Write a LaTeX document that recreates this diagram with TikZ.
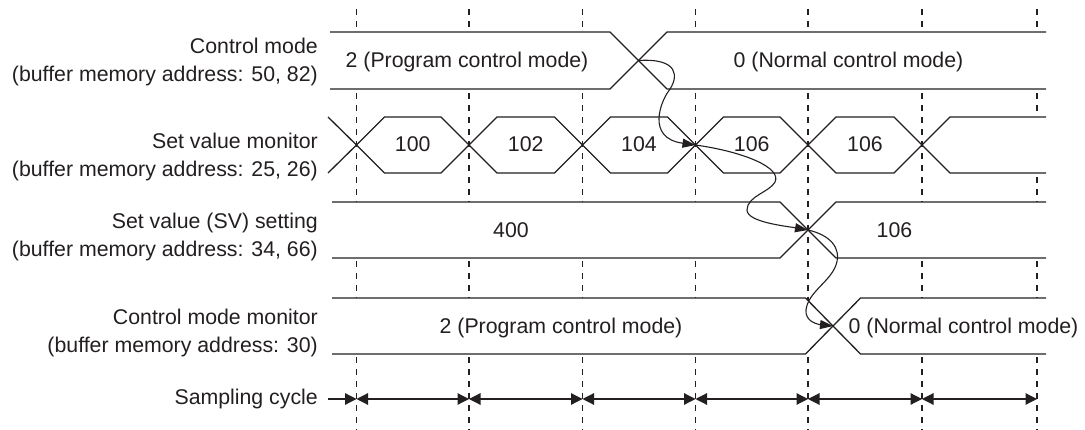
\documentclass[tikz,border=0pt]{standalone}
\usepackage{fontspec}
\setmainfont{Liberation Sans}
\usetikzlibrary{arrows.meta}
\definecolor{ink}{HTML}{231F20}
\begin{document}
\begin{tikzpicture}[x=1pt,y=-1pt,
  sig/.style={draw=ink,line width=1.3pt,line join=miter},
  gridline/.style={draw=ink,line width=1.2pt,dash pattern=on 6pt off 6pt},
  txt/.style={inner sep=0pt,text=ink,font=\fontsize{21.3}{28}\selectfont},
  lab/.style={txt,align=right,anchor=base east},
  val/.style={txt,anchor=base},
  cause/.style={draw=ink,line width=1.1pt,-{Triangle[length=13pt,width=9pt]}},
  cyc/.style={draw=ink,line width=1.2pt,{Triangle[length=11.5pt,width=11.5pt]}-{Triangle[length=11.5pt,width=11.5pt]}}
]
\useasboundingbox (0,0) rectangle (1085,430);

% dashed sampling grid
\foreach \x [count=\i from 0] in {356.5,469,582.5,695.5,808,922,1037} {
  \draw[gridline] (\x,9) -- (\x,430);
  \coordinate (s\i) at (\x,399);
}

% Row 1: control mode
\fill[white] (330,32) -- (610,32) -- (638.5,60.5) -- (610,89) -- (330,89) -- cycle;
\fill[white] (638.5,60.5) -- (667,32) -- (1046,32) -- (1046,89) -- (667,89) -- cycle;
\draw[sig] (330,32) -- (610,32) -- (667,89) -- (1046,89);
\draw[sig] (330,89) -- (610,89) -- (667,32) -- (1046,32);

% Row 2: set value monitor
\draw[sig] (328,117) -- (356.5,145) -- (328,173);
\foreach \a/\b/\v [count=\i] in {356.5/469/100, 469/582.5/102, 582.5/695.5/104, 695.5/808/106, 808/922/106} {
  \filldraw[sig,fill=white] (\a,145) -- (\a+28,117) -- (\b-28,117) -- (\b,145) -- (\b-28,173) -- (\a+28,173) -- cycle;
  \node[val] (m\i) at ({(\a+\b)/2},152) {\v};
}
\fill[white] (922,145) -- (950,117) -- (1046,117) -- (1046,173) -- (950,173) -- cycle;
\draw[sig] (1046,117) -- (950,117) -- (922,145) -- (950,173) -- (1046,173);

% Row 3: set value setting
\fill[white] (332,202) -- (780,202) -- (808,230) -- (780,258) -- (332,258) -- cycle;
\fill[white] (808,230) -- (836,202) -- (1046,202) -- (1046,258) -- (836,258) -- cycle;
\draw[sig] (332,202) -- (780,202) -- (836,258) -- (1046,258);
\draw[sig] (332,258) -- (780,258) -- (836,202) -- (1046,202);

% Row 4: control mode monitor
\fill[white] (332,298) -- (805.5,298) -- (833,326) -- (805.5,354) -- (332,354) -- cycle;
\fill[white] (833,326) -- (860.5,298) -- (1046,298) -- (1046,354) -- (860.5,354) -- cycle;
\draw[sig] (332,298) -- (805.5,298) -- (860.5,354) -- (1046,354);
\draw[sig] (332,354) -- (805.5,354) -- (860.5,298) -- (1046,298);

% values
\node[val] (t1a) at (467,68) {2 (Program control mode)};
\node[val] (t1b) at (848.5,68) {0 (Normal control mode)};
\node[val] (t3a) at (511,237.5) {400};
\node[val] (t3b) at (894.5,237.5) {106};
\node[val] (t4a) at (561,333.5) {2 (Program control mode)};
\node[val] (t4b) at (963.5,333.5) {0 (Normal control mode)};

% labels (base = baseline of the last line)
\node[lab] (l1) at (318,81.5) {Control mode\\(buffer memory address: 50, 82)};
\node[lab] (l2) at (318,176.3) {Set value monitor\\(buffer memory address: 25, 26)};
\node[lab] (l3) at (318,256.3) {Set value (SV) setting\\(buffer memory address: 34, 66)};
\node[lab] (l4) at (318,352.3) {Control mode monitor\\(buffer memory address: 30)};
\node[txt,anchor=base east] (l5) at (318,405) {Sampling cycle};

% sampling cycle arrows
\draw[draw=ink,line width=1.2pt,shorten <=10pt,-{Triangle[length=11.5pt,width=11.5pt]}] (l5.east |- s0) -- (s0);
\foreach \p/\q in {0/1,1/2,2/3,3/4,4/5,5/6} {
  \draw[cyc] (s\p) -- (s\q);
}

% cause-effect curves
\coordinate (c1) at (638.5,60.5);
\coordinate (c2) at (695.5,145);
\coordinate (c3) at (808,230);
\coordinate (c4) at (833,326);
\draw[cause] (c1) .. controls (678,58) and (680,76) .. (668,92)
  .. controls (662,100) and (645,138) .. (c2);
\draw[cause] (c2) .. controls (745,152) and (782,168) .. (775,182)
  .. controls (770,192) and (747,196) .. (747,210)
  .. controls (747,222) and (785,226) .. (c3);
\draw[cause] (c3) .. controls (830,235) and (842,248) .. (836,265)
  .. controls (830,282) and (808,292) .. (806,310)
  .. controls (805,320) and (815,324) .. (c4);
\end{tikzpicture}
\end{document}
